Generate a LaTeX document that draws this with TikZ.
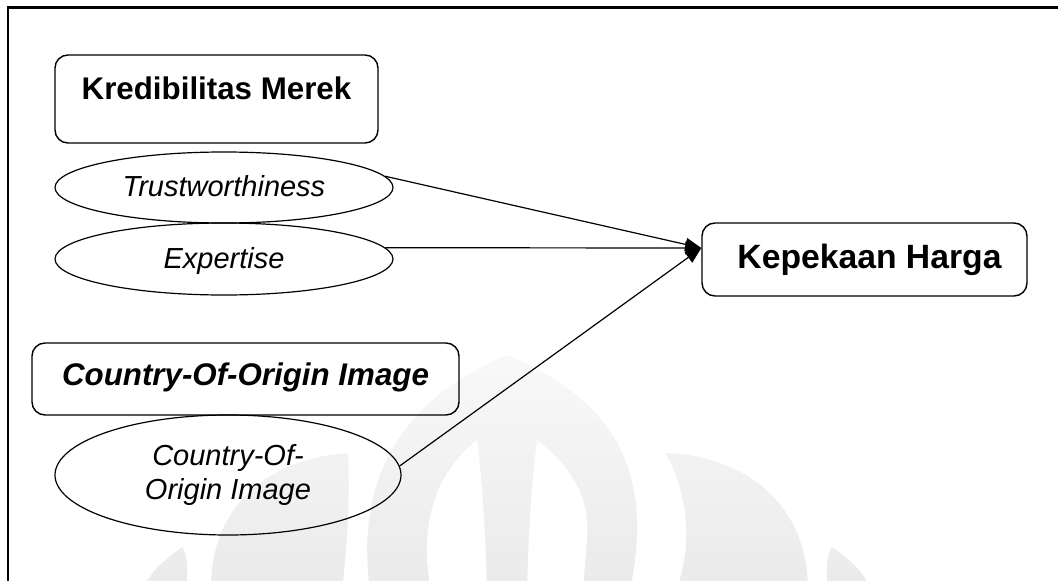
\documentclass[tikz,border=0pt]{standalone}
\usepackage{fontspec}
\setmainfont{Liberation Sans}
\usetikzlibrary{arrows.meta,shapes.geometric}
\tikzset{
  box/.style={draw, rounded corners=13pt, line width=1.4pt, inner sep=0pt},
  ell/.style={draw, ellipse, line width=1.2pt, inner sep=0pt},
  arr/.style={line width=1.2pt, -{Triangle[length=16pt,width=13pt]}},
  wm/.style={fill=white, draw=none}
}
\begin{document}
\begin{tikzpicture}[x=1pt,y=-1pt]
\useasboundingbox (0,0) rectangle (1058,581);
\clip (0,0) rectangle (1058,581);
% watermark
\begin{scope}
  \clip (370,590) .. controls (355,480) and (400,400) .. (507,355)
        .. controls (614,400) and (655,470) .. (630,590) -- cycle
        (348,453) .. controls (270,458) and (210,505) .. (211,590)
        -- (342,590) .. controls (348,540) and (350,490) .. (348,453)
        (665,453) .. controls (740,455) and (808,500) .. (808,590)
        -- (676,590) .. controls (692,550) and (690,495) .. (665,453)
        (832,547) .. controls (850,560) and (862,570) .. (872,590)
        -- (828,590) .. controls (826,570) and (826,555) .. (832,547)
        (182,547) .. controls (164,560) and (152,570) .. (142,590)
        -- (186,590) .. controls (188,570) and (188,555) .. (182,547);
  \shade[top color=gray!5, middle color=gray!15, bottom color=gray!16]
        (0,355) rectangle (1058,581);
\end{scope}
\fill[wm] (477,440) .. controls (440,470) and (425,510) .. (427,560)
      -- (430,590) -- (487,590) .. controls (485,520) and (482,480) .. (477,440);
\fill[wm] (537,440) .. controls (575,470) and (590,500) .. (587,540)
      -- (583,590) -- (527,590) .. controls (529,520) and (532,480) .. (537,440);
% frame
\draw[line width=2.2pt] (8.3,600) -- (8.3,7.5) -- (1070,7.5);
% nodes
\node[box, minimum width=323pt, text height=44pt, text depth=44pt,
      font=\fontsize{31.3}{36}\selectfont\bfseries]
      (kred) at (216.5,99) {Kredibilitas Merek};
\node[ell, minimum width=338pt, minimum height=71pt, text height=22pt, text depth=3.6pt,
      font=\fontsize{29}{34}\selectfont\itshape]
      (trust) at (224,187.5) {Trustworthiness};
\node[ell, minimum width=338pt, minimum height=72pt, text height=21pt, text depth=3pt,
      font=\fontsize{29}{34}\selectfont\itshape]
      (expe) at (224,259) {Expertise};
\node[box, minimum width=325pt, text height=45pt, text depth=28pt,
      font=\fontsize{33.7}{40}\selectfont\bfseries]
      (kep) at (864.5,259.5) {\hspace*{10pt}Kepekaan Harga};
\node[box, minimum width=427pt, text height=42pt, text depth=30pt,
      font=\fontsize{31.3}{36}\selectfont\bfseries\itshape]
      (coob) at (245.5,379) {Country-Of-Origin Image};
\node[ell, minimum width=346pt, minimum height=120pt, align=center,
      font=\fontsize{29}{34}\selectfont\itshape]
      (cooe) at (228,475) {Country-Of-\\Origin Image};
% connectors
\coordinate (tip) at ([yshift=11.5pt]kep.west);
\draw[arr] (trust.4) -- (tip);
\draw[arr] (expe.4) -- (tip);
\draw[arr] (cooe.3) -- (tip);
\end{tikzpicture}
\end{document}
